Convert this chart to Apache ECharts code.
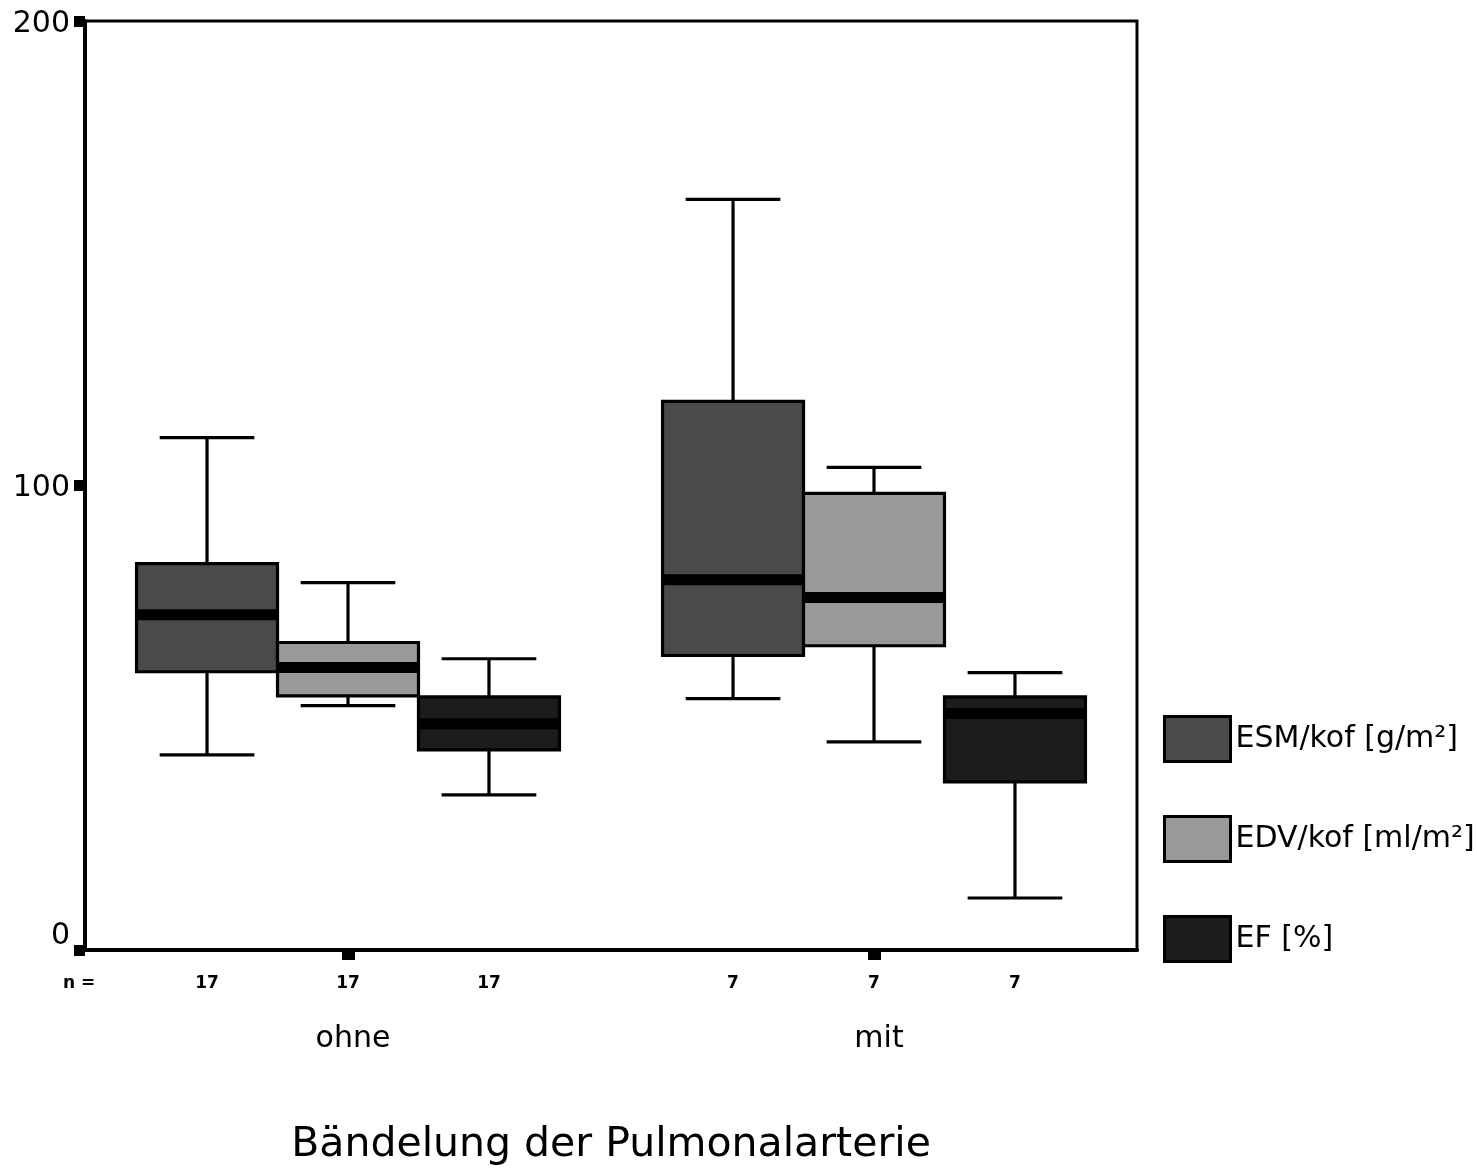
<!DOCTYPE html>
<html>
<head>
<meta charset="utf-8">
<title>Bändelung der Pulmonalarterie</title>
<script src="https://cdn.jsdelivr.net/npm/echarts@6/dist/echarts.min.js"></script>
<style>
  html, body { margin: 0; padding: 0; background: #fff; }
  #chart { width: 1477px; height: 1170px; }
</style>
</head>
<body>
<div id="chart"></div>
<script>
// groups on the x axis
const categories = ['ohne', 'mit'];
// n per group
const counts = [17, 7];
// [min, q1, median, q3, max] per group
const esmStats = [[42.0, 59.9, 72.2, 83.2, 110.3], [54.1, 63.4, 79.7, 118.1, 161.6]];
const edvStats = [[52.6, 54.7, 60.8, 66.2, 79.1], [44.8, 65.5, 75.9, 98.3, 103.9]];
const efStats = [[33.4, 43.1, 48.7, 54.5, 62.7], [11.2, 36.2, 50.9, 54.5, 59.7]];
const yTicks = [0, 100, 200];

const FONT = '"DejaVu Sans", sans-serif';
const seriesNames = ['ESM/kof [g/m²]', 'EDV/kof [ml/m²]', 'EF [%]'];
const seriesColors = ['#4a4a4a', '#999999', '#1c1c1c'];
const offsets = [-0.268, 0, 0.268]; // box offset as share of band width

function toRows(stats) {
  return stats.map((s, i) => [i].concat(s).concat([counts[i]]));
}

function makeRender(idx) {
  return function (params, api) {
    const cat = api.value(0);
    const band = api.size([1, 0])[0];
    const cx = api.coord([cat, 0])[0] + offsets[idx] * band;
    const w = band * 0.268;
    const cap = band * 0.18;
    const y = k => api.coord([cat, api.value(k)])[1];
    const yMin = y(1), yQ1 = y(2), yMed = y(3), yQ3 = y(4), yMax = y(5);
    const y0 = api.coord([cat, 0])[1];
    const line = { stroke: '#000', lineWidth: 3.2 };
    return {
      type: 'group',
      children: [
        { type: 'line', shape: { x1: cx, y1: yMax, x2: cx, y2: yQ3 }, style: line },
        { type: 'line', shape: { x1: cx, y1: yQ1, x2: cx, y2: yMin }, style: line },
        { type: 'line', shape: { x1: cx - cap / 2, y1: yMax, x2: cx + cap / 2, y2: yMax }, style: line },
        { type: 'line', shape: { x1: cx - cap / 2, y1: yMin, x2: cx + cap / 2, y2: yMin }, style: line },
        { type: 'rect', shape: { x: cx - w / 2, y: yQ3, width: w, height: yQ1 - yQ3 },
          style: { fill: seriesColors[idx], stroke: '#000', lineWidth: 3.2 } },
        { type: 'rect', shape: { x: cx - w / 2, y: yMed - 5.5, width: w, height: 11 },
          style: { fill: '#000' } },
        { type: 'text', x: cx, y: y0 + 34,
          style: { text: String(api.value(6)), fill: '#000', font: 'bold 17px ' + FONT,
                   align: 'center', verticalAlign: 'middle' } }
      ]
    };
  };
}

const chart = echarts.init(document.getElementById('chart'));

const option = {
  backgroundColor: '#fff',
  animation: false,
  grid: {
    left: 85, right: 340, top: 21, bottom: 220,
    outerBoundsMode: 'none',
    show: true, borderColor: '#000', borderWidth: 3
  },
  legend: {
    orient: 'vertical',
    left: 1158, top: 710,
    icon: 'rect',
    itemWidth: 66, itemHeight: 45, itemGap: 52,
    itemStyle: { borderColor: '#000', borderWidth: 3 },
    textStyle: { fontSize: 30, fontFamily: FONT, color: '#000' },
    data: seriesNames
  },
  xAxis: {
    type: 'category',
    data: categories,
    name: 'Bändelung der Pulmonalarterie',
    nameLocation: 'middle',
    nameGap: 175,
    nameTextStyle: { fontSize: 41, fontFamily: FONT, color: '#000' },
    axisLine: { show: true, lineStyle: { color: '#000', width: 4 } },
    axisTick: { show: true, alignWithLabel: true, length: 10, lineStyle: { color: '#000', width: 13 } },
    axisLabel: { fontSize: 30, fontFamily: FONT, color: '#000', margin: 74, padding: [0, 0, 0, 10] }
  },
  yAxis: {
    type: 'value',
    min: yTicks[0], max: yTicks[yTicks.length - 1], interval: 100,
    splitLine: { show: false },
    axisLine: { show: true, lineStyle: { color: '#000', width: 4 } },
    axisTick: { show: true, length: 11, lineStyle: { color: '#000', width: 11 } },
    axisLabel: {
      fontSize: 30, fontFamily: FONT, color: '#000', margin: 15, padding: [6, 0, 0, 0],
      formatter: v => (v === 0 ? '{lo|0}' : String(v)),
      rich: { lo: { fontSize: 30, fontFamily: FONT, color: '#000', padding: [0, 0, 34, 0] } }
    }
  },
  graphic: [{
    type: 'text', x: 63, y: 984,
    style: { text: 'n =', fill: '#000', font: 'bold 17px ' + FONT, verticalAlign: 'middle' }
  }],
  series: [esmStats, edvStats, efStats].map((stats, i) => ({
    name: seriesNames[i],
    type: 'custom',
    renderItem: makeRender(i),
    itemStyle: { color: seriesColors[i] },
    encode: { x: 0, y: [1, 2, 3, 4, 5] },
    data: toRows(stats)
  }))
};

chart.setOption(option);
window.addEventListener('resize', () => chart.resize());
</script>
</body>
</html>
